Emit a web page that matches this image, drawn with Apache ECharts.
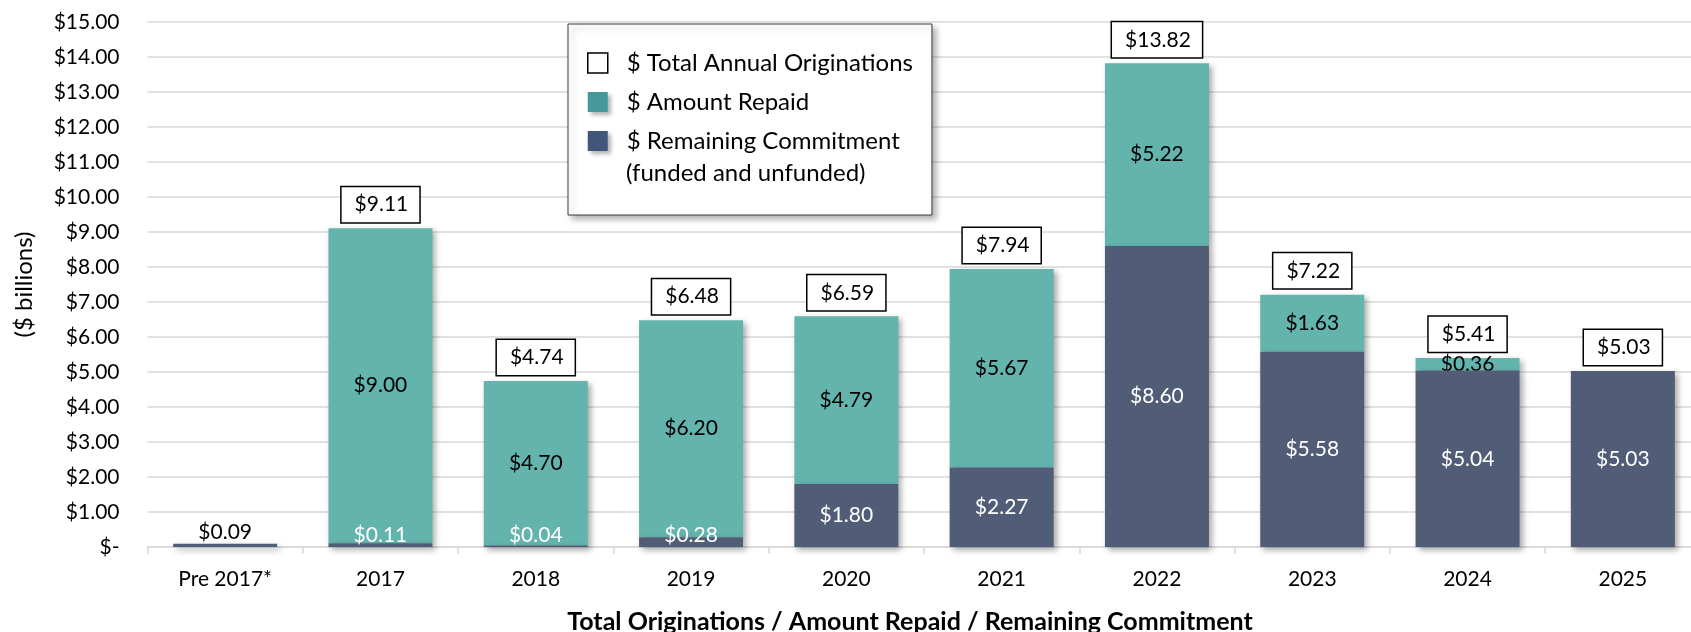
<!DOCTYPE html>
<html>
<head>
<meta charset="utf-8">
<script src="https://cdn.jsdelivr.net/npm/echarts@6/dist/echarts.min.js"></script>
<style>
  html, body { margin: 0; padding: 0; background: #fff; }
  #chart { width: 1691px; height: 632px; }
</style>
</head>
<body>
<div id="chart"></div>
<script>
// values ($ billions)
const categories = ['Pre 2017*', '2017', '2018', '2019', '2020', '2021', '2022', '2023', '2024', '2025'];
const remaining = [0.09, 0.11, 0.04, 0.28, 1.80, 2.27, 8.60, 5.58, 5.04, 5.03];
const repaid = [0, 9.00, 4.70, 6.20, 4.79, 5.67, 5.22, 1.63, 0.36, 0];
const totals = [0.09, 9.11, 4.74, 6.48, 6.59, 7.94, 13.82, 7.22, 5.41, 5.03];

const FONT = 'Lato, "Open Sans", sans-serif';
const TEAL = '#63b4ad';
const SLATE = '#515d76';

function money(v) {
    return '$' + Number(v).toFixed(2);
}

const chart = echarts.init(document.getElementById('chart'));

const barShadow = {
    shadowColor: 'rgba(0,0,0,0.35)',
    shadowBlur: 6,
    shadowOffsetX: 3,
    shadowOffsetY: 3
};

const option = {
    animation: false,
    textStyle: { fontFamily: FONT },
    // plot runs a little past the right edge, like the cropped original
    grid: { left: 147.5, top: 22, width: 1553, height: 525, containLabel: false, outerBoundsMode: 'none' },
    legend: {
        orient: 'vertical',
        left: 568,
        top: 24,
        backgroundColor: '#fff',
        borderColor: '#3a3a3a',
        borderWidth: 1,
        padding: [25, 19, 60, 19],
        itemGap: 11,
        itemWidth: 20,
        itemHeight: 20,
        shadowColor: 'rgba(0,0,0,0.3)',
        shadowBlur: 6,
        shadowOffsetX: 4,
        shadowOffsetY: 4,
        selectedMode: false,
        textStyle: { fontFamily: FONT, fontSize: 24, color: '#000', lineHeight: 28, padding: [0, 0, 0, 14] },
        data: [
            { name: '$ Total Annual Originations', icon: 'rect',
              itemStyle: { color: '#fff', borderColor: '#000', borderWidth: 1.5 } },
            { name: '$ Amount Repaid', icon: 'rect',
              itemStyle: { color: '#45999a', shadowColor: 'rgba(0,0,0,0.3)', shadowBlur: 4, shadowOffsetX: 3, shadowOffsetY: 3 } },
            { name: '$ Remaining Commitment', icon: 'rect',
              itemStyle: { color: '#41577a', shadowColor: 'rgba(0,0,0,0.3)', shadowBlur: 4, shadowOffsetX: 3, shadowOffsetY: 3 } }
        ]
    },
    graphic: [{
        type: 'text',
        left: 626,
        top: 161,
        z: 100,
        style: { text: '(funded and unfunded)', font: '24px ' + FONT, fill: '#000' }
    }],
    xAxis: {
        type: 'category',
        data: categories,
        name: 'Total Originations / Amount Repaid / Remaining Commitment',
        nameLocation: 'middle',
        nameGap: 62,
        nameTextStyle: { fontFamily: FONT, fontSize: 25, fontWeight: 'bold', color: '#000', padding: [0, 28, 0, 0] },
        axisLine: { lineStyle: { color: '#d9d9d9', width: 1.5 } },
        axisTick: { show: true, length: 7, lineStyle: { color: '#d9d9d9', width: 1.5 } },
        axisLabel: { fontFamily: FONT, fontSize: 21, color: '#000', margin: 22 }
    },
    yAxis: {
        type: 'value',
        min: 0,
        max: 15,
        interval: 1,
        name: '($ billions)',
        nameLocation: 'middle',
        nameGap: 111,
        nameRotate: 90,
        nameTextStyle: { fontFamily: FONT, fontSize: 24, color: '#000' },
        axisLine: { show: false },
        axisTick: { show: false },
        splitLine: { lineStyle: { color: '#d9d9d9', width: 1.5 } },
        axisLabel: {
            fontFamily: FONT, fontSize: 21, color: '#000', margin: 28,
            formatter: v => v === 0 ? '$-' : money(v)
        }
    },
    series: [
        {
            name: '$ Remaining Commitment',
            type: 'bar',
            stack: 'orig',
            barWidth: 104,
            z: 3,
            itemStyle: Object.assign({ color: SLATE }, barShadow),
            label: { show: true, position: 'inside', color: '#fff', fontSize: 21, fontFamily: FONT, formatter: p => money(p.value) },
            data: remaining.map((v, i) => {
                if (i === 0) return { value: v, label: { show: false } };
                if (v < 0.5) return { value: v, label: { position: 'insideBottom', distance: 1 } };
                return v;
            })
        },
        {
            name: '$ Amount Repaid',
            type: 'bar',
            stack: 'orig',
            barWidth: 104,
            z: 2,
            itemStyle: Object.assign({ color: TEAL }, barShadow),
            label: {
                show: true, position: 'inside', color: '#000', fontSize: 21, fontFamily: FONT,
                formatter: p => p.value > 0 ? money(p.value) : ''
            },
            data: repaid
        },
        {
            name: '$ Total Annual Originations',
            type: 'bar',
            barWidth: 104,
            barGap: '-100%',
            z: 4,
            silent: true,
            itemStyle: { color: 'rgba(0,0,0,0)' },
            label: {
                show: true, position: 'top', distance: 6, color: '#000', fontSize: 21, fontFamily: FONT,
                backgroundColor: '#fff', borderColor: '#000', borderWidth: 1.5,
                padding: [7, 11, 7, 13],
                formatter: p => money(p.value)
            },
            // pre-2017 total sits bare just above its thin bar
            data: totals.map((v, i) => i === 0
                ? { value: v, label: { backgroundColor: 'transparent', borderWidth: 0, padding: 0, distance: 1 } }
                : v)
        }
    ]
};

chart.setOption(option);
</script>
</body>
</html>
